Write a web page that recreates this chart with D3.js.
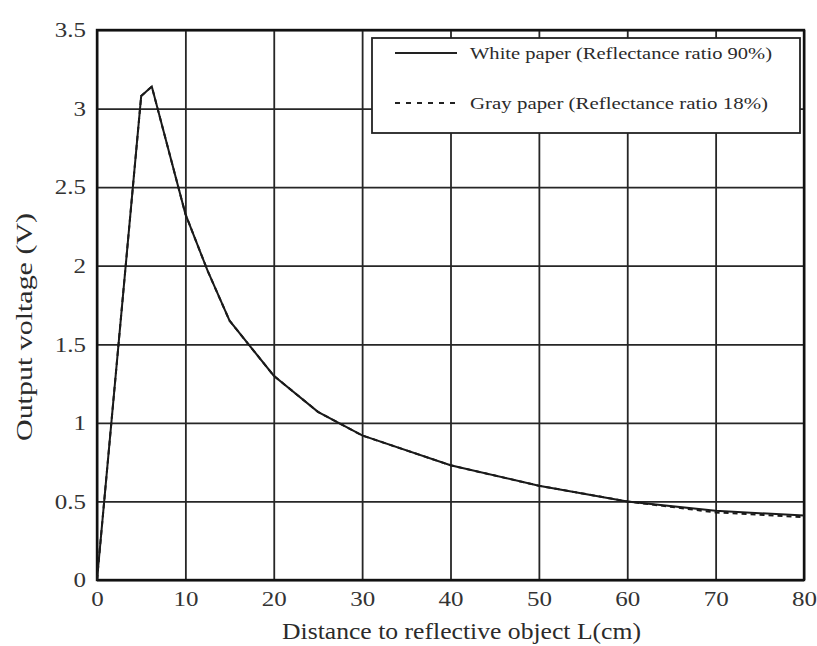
<!DOCTYPE html>
<html>
<head>
<meta charset="utf-8">
<script src="https://cdn.jsdelivr.net/npm/d3@7"></script>
<style>
  html, body { margin: 0; padding: 0; background: #fff; }
  svg { display: block; }
  .grid line { stroke: #262626; stroke-width: 1.8; }
  .grid path { display: none; }
  .tick-label { font-family: "Liberation Serif", "Times New Roman", Tinos, serif; font-size: 20px; fill: #333; }
  .title { font-family: "Liberation Serif", "Times New Roman", Tinos, serif; fill: #2b2b2b; }
</style>
</head>
<body>
<svg id="chart"></svg>
<script>
// distance (cm) at each measured point
const distance = [0, 5, 6.2, 10, 12.5, 15, 20, 25, 30, 40, 50, 60, 70, 80];
// output voltage (V)
const whitePaper = [0, 3.08, 3.14, 2.33, 1.97, 1.65, 1.3, 1.07, 0.92, 0.73, 0.6, 0.5, 0.44, 0.41];
const grayPaper = [0, 3.08, 3.14, 2.33, 1.97, 1.65, 1.3, 1.07, 0.92, 0.73, 0.6, 0.5, 0.43, 0.4];

const xTicks = [0, 10, 20, 30, 40, 50, 60, 70, 80];
const yTicks = [0, 0.5, 1, 1.5, 2, 2.5, 3, 3.5];
const seriesNames = ['White paper (Reflectance ratio 90%)', 'Gray paper (Reflectance ratio 18%)'];

const margin = { top: 30, right: 13, bottom: 66, left: 97 };
const width = 817 - margin.left - margin.right;
const height = 646 - margin.top - margin.bottom;

const x = d3.scaleLinear().domain([0, 80]).range([0, width]);
const y = d3.scaleLinear().domain([0, 3.5]).range([height, 0]);

const svg = d3.select('#chart')
  .attr('width', 817)
  .attr('height', 646);

const chart = svg.append('g')
  .attr('transform', `translate(${ margin.left }, ${ margin.top })`);

// grid + tick labels
const xAxis = d3.axisBottom(x).tickValues(xTicks).tickSize(-height).tickPadding(0).tickFormat(d3.format('d'));
const yAxis = d3.axisLeft(y).tickValues(yTicks).tickSize(-width).tickPadding(0).tickFormat(d => String(d));

const gx = chart.append('g')
  .attr('class', 'grid')
  .attr('transform', `translate(0, ${ height })`)
  .call(xAxis);
gx.selectAll('text')
  .attr('class', 'tick-label')
  .attr('y', 0)
  .attr('dy', 0)
  .attr('transform', 'translate(0, 26) scale(1.25, 1)');

const gy = chart.append('g')
  .attr('class', 'grid')
  .call(yAxis);
gy.selectAll('text')
  .attr('class', 'tick-label')
  .attr('x', 0)
  .attr('dy', '0.34em')
  .attr('transform', 'translate(-11, 0) scale(1.25, 1)');

chart.selectAll('.grid').attr('font-family', null).attr('font-size', null);
chart.selectAll('.grid text').attr('fill', null);

// frame
chart.append('rect')
  .attr('width', width)
  .attr('height', height)
  .attr('fill', 'none')
  .attr('stroke', '#111')
  .attr('stroke-width', 2.4);

// curves
const line = d3.line()
  .x((d, i) => x(distance[i]))
  .y(d => y(d));

chart.append('path')
  .datum(whitePaper)
  .attr('d', line)
  .attr('fill', 'none')
  .attr('stroke', '#1a1a1a')
  .attr('stroke-width', 2);

chart.append('path')
  .datum(grayPaper)
  .attr('d', line)
  .attr('fill', 'none')
  .attr('stroke', '#1a1a1a')
  .attr('stroke-width', 2)
  .attr('stroke-dasharray', '5,4');

// legend
const legend = chart.append('g')
  .attr('transform', `translate(${ 372 - margin.left }, ${ 38 - margin.top })`);

legend.append('rect')
  .attr('width', 428)
  .attr('height', 95)
  .attr('fill', '#fff')
  .attr('stroke', '#222')
  .attr('stroke-width', 1.8);

const rows = legend.selectAll('g.row')
  .data(seriesNames)
  .enter()
  .append('g')
  .attr('class', 'row')
  .attr('transform', (d, i) => `translate(0, ${ 15 + i * 50 })`);

rows.append('line')
  .attr('x1', 23)
  .attr('x2', 85)
  .attr('stroke', '#222')
  .attr('stroke-width', 2)
  .attr('stroke-dasharray', (d, i) => (i === 1 ? '5,6' : null));

rows.append('text')
  .attr('class', 'title')
  .attr('x', 98)
  .attr('y', 6)
  .attr('font-size', 17.5)
  .attr('textLength', (d, i) => (i === 0 ? 302 : 298))
  .attr('lengthAdjust', 'spacingAndGlyphs')
  .text(d => d);

// axis titles
svg.append('text')
  .attr('class', 'title')
  .attr('x', 282)
  .attr('y', 639)
  .attr('font-size', 23)
  .attr('textLength', 359)
  .attr('lengthAdjust', 'spacingAndGlyphs')
  .text('Distance to reflective object L(cm)');

svg.append('text')
  .attr('class', 'title')
  .attr('transform', 'translate(32, 441) rotate(-90)')
  .attr('font-size', 24)
  .attr('textLength', 228)
  .attr('lengthAdjust', 'spacingAndGlyphs')
  .text('Output voltage (V)');
</script>
</body>
</html>
